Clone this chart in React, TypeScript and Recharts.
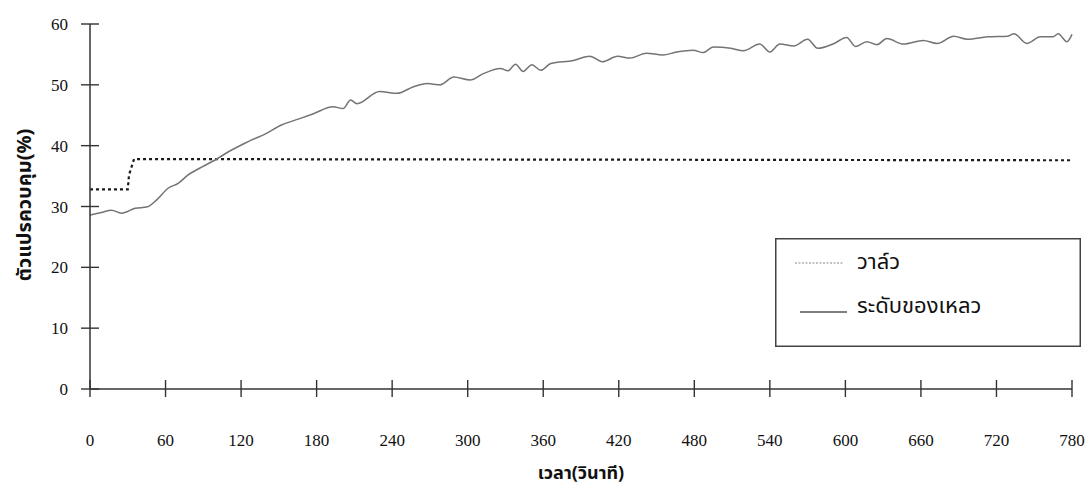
import React from "react";
import { LineChart, Line, XAxis, YAxis, Legend } from "recharts";

// เวลา (วินาที) และระดับของเหลว (%)
const levelTime = [
  0, 9, 17, 25, 36, 45, 53, 62, 70, 78, 89, 99, 110, 123, 128, 139, 152, 166, 177, 193,
  201, 207, 212, 230, 244, 257, 268, 278, 289, 302, 312, 326, 332, 338, 344, 351, 358, 366, 384, 397,
  407, 419, 429, 442, 455, 466, 479, 487, 495, 509, 519, 532, 540, 548, 559, 570, 578, 591, 601, 608,
  617, 625, 633, 646, 662, 673, 686, 697, 713, 729, 734, 744, 755, 765, 769, 776, 780,
];
const levelValue = [
  28.6, 29.0, 29.4, 28.9, 29.7, 29.9, 31.1, 33.0, 33.8, 35.2, 36.5, 37.6, 39.0, 40.4, 40.9, 41.9, 43.4, 44.4, 45.2, 46.4,
  46.1, 47.5, 46.9, 48.9, 48.6, 49.7, 50.2, 50.0, 51.3, 50.8, 51.8, 52.7, 52.3, 53.4, 52.2, 53.3, 52.4, 53.5, 54.0, 54.7,
  53.8, 54.7, 54.4, 55.2, 54.9, 55.4, 55.7, 55.3, 56.2, 56.0, 55.6, 56.7, 55.4, 56.7, 56.4, 57.5, 56.0, 56.8, 57.8, 56.3,
  57.1, 56.6, 57.6, 56.7, 57.3, 56.8, 58.0, 57.5, 57.9, 58.0, 58.4, 56.8, 57.9, 57.9, 58.4, 57.1, 58.3,
];

// วาล์ว (%)
const valveTime = [0, 30, 31, 35, 780];
const valveValue = [32.8, 32.8, 35.2, 37.8, 37.6];

const xTicks = [0, 60, 120, 180, 240, 300, 360, 420, 480, 540, 600, 660, 720, 780];
const yTicks = [0, 10, 20, 30, 40, 50, 60];

const levelData = levelTime.map((t, i) => ({ t, v: levelValue[i] }));
const valveData = valveTime.map((t, i) => ({ t, v: valveValue[i] }));

const thaiFont = "'Noto Sans Thai', 'Tlwg Typist', Garuda, Loma, 'DejaVu Sans', sans-serif";
const numFont = "'Liberation Serif', 'Times New Roman', serif";
const axisColor = "#333";

const XTick = (props: any) => {
  const { x, y, payload } = props;
  return (
    <g>
      <line x1={x} x2={x} y1={y - 9} y2={y + 8} stroke={axisColor} strokeWidth={1.4} />
      <text x={x} y={y + 57} textAnchor="middle" fontFamily={numFont} fontSize={17} fill="#111">
        {payload.value}
      </text>
    </g>
  );
};

const YTick = (props: any) => {
  const { x, y, payload } = props;
  return (
    <g>
      <line x1={x - 9} x2={x + 9} y1={y} y2={y} stroke={axisColor} strokeWidth={1.4} />
      <text x={x - 22} y={y + 6} textAnchor="end" fontFamily={numFont} fontSize={17} fill="#111">
        {payload.value}
      </text>
    </g>
  );
};

const YTitle = () => (
  <text
    x={25}
    y={205}
    transform="rotate(-90 25 205)"
    textAnchor="middle"
    dominantBaseline="central"
    fontFamily={thaiFont}
    fontWeight="bold"
    fontSize={20}
    fill="#111"
  >
    ตัวแปรควบคุม(%)
  </text>
);

const renderLegend = () => (
  <svg width={306} height={109} style={{ display: "block" }}>
    <rect x={0.75} y={0.75} width={304.5} height={107.5} fill="#fff" stroke="#444" strokeWidth={1.5} />
    <line x1={20} x2={68} y1={25} y2={25} stroke="#888" strokeWidth={1.2} strokeDasharray="2 1.5" />
    <text x={82} y={24} dominantBaseline="central" fontFamily={thaiFont} fontSize={22} fill="#111">
      วาล์ว
    </text>
    <line x1={25} x2={72} y1={74} y2={74} stroke="#555" strokeWidth={1.3} />
    <text x={82} y={68} dominantBaseline="central" fontFamily={thaiFont} fontSize={22} fill="#111">
      ระดับของเหลว
    </text>
  </svg>
);

export default function App() {
  return (
    <div style={{ position: "absolute", left: 0, top: 0, background: "#fff" }}>
      <LineChart width={1090} height={490} margin={{ top: 24, right: 18, bottom: 0, left: 0 }}>
        <XAxis
          type="number"
          dataKey="t"
          domain={[0, 780]}
          ticks={xTicks}
          height={101}
          tickSize={0}
          tickMargin={0}
          tickLine={false}
          tick={<XTick />}
          axisLine={{ stroke: axisColor, strokeWidth: 1.5 }}
          label={{
            value: "เวลา(วินาที)",
            position: "insideBottom",
            offset: 11,
            style: { fontFamily: thaiFont, fontWeight: "bold", fontSize: 18, fill: "#111" },
          }}
        />
        <YAxis
          type="number"
          domain={[0, 60]}
          ticks={yTicks}
          width={90}
          tickSize={0}
          tickMargin={0}
          tickLine={false}
          tick={<YTick />}
          axisLine={{ stroke: axisColor, strokeWidth: 1.5 }}
          label={<YTitle />}
        />
        <Legend
          layout="vertical"
          align="center"
          verticalAlign="middle"
          content={renderLegend}
          wrapperStyle={{ left: 775, top: 238, width: 306, height: 109 }}
        />
        <Line
          data={valveData}
          dataKey="v"
          type="linear"
          stroke="#1a1a1a"
          strokeWidth={2.2}
          strokeDasharray="3 3"
          dot={false}
          isAnimationActive={false}
        />
        <Line
          data={levelData}
          dataKey="v"
          type="monotone"
          stroke="#747474"
          strokeWidth={1.5}
          dot={false}
          isAnimationActive={false}
        />
      </LineChart>
    </div>
  );
}
